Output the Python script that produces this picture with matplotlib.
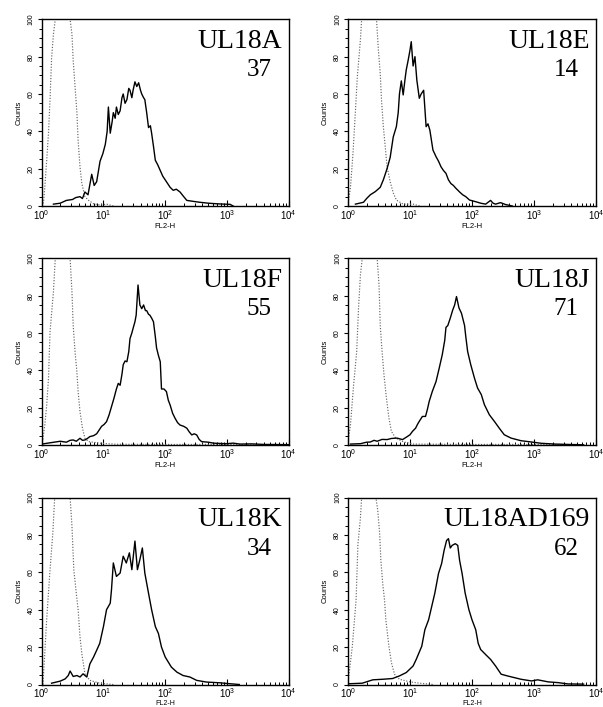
import matplotlib
matplotlib.use("Agg")
import matplotlib.pyplot as plt
import numpy as np
from matplotlib.ticker import LogLocator, MultipleLocator, NullFormatter

plt.rcParams['font.family'] = ['Liberation Sans', 'DejaVu Sans']
plt.rcParams['mathtext.fontset'] = 'custom'
plt.rcParams['mathtext.rm'] = 'Liberation Sans'
plt.rcParams['mathtext.it'] = 'Liberation Sans:italic'

# Panel names and percentage of positive cells
panel_names = ["UL18A", "UL18E", "UL18F", "UL18J", "UL18K", "UL18AD169"]
positive_pct = [37, 14, 55, 71, 34, 62]

# ---- Histogram data: log10(FL2-H) and counts ----
# UL18A
a_sample_log = [0.19, 0.3, 0.4, 0.5, 0.55, 0.62, 0.66, 0.7, 0.75, 0.81, 0.85, 0.89, 0.945, 0.99, 1.03,
                1.06, 1.08, 1.11, 1.14, 1.16, 1.19, 1.21, 1.24, 1.27, 1.3, 1.32, 1.35, 1.38, 1.41, 1.43,
                1.46, 1.48, 1.51, 1.54, 1.57, 1.6, 1.62, 1.65, 1.67, 1.7, 1.73, 1.76, 1.78, 1.81, 1.84,
                1.88, 1.92, 1.96, 2.0, 2.04, 2.08, 2.13, 2.18, 2.24, 2.3, 2.35, 2.45, 2.56, 2.7, 2.83,
                2.95, 3.05, 3.1]
a_sample_cnt = [1, 1.5, 3, 3.5, 4.5, 5, 4, 7.5, 6, 17, 11, 13, 24, 28, 33,
                40, 53, 39, 45, 50, 47, 53, 49, 51, 58, 60, 55, 57, 63, 62,
                58, 62, 66.5, 64, 66, 62, 60, 58, 57, 50, 42, 43, 39, 32, 24.5,
                22, 19, 16, 14, 12, 10, 8.4, 9, 7.5, 5, 3, 2.5, 2, 1.5, 1.2,
                1, 0.9, 0]
a_ctrl_log = [0.0, 0.03, 0.05, 0.08, 0.11, 0.135, 0.16, 0.19, 0.22, 0.46, 0.49, 0.51, 0.54, 0.57,
              0.59, 0.62, 0.65, 0.7, 0.76, 0.84, 0.95, 1.05, 1.16]
a_ctrl_cnt = [0, 2, 10, 24, 39, 57, 79, 92, 100, 100, 92, 78, 64, 50,
              35, 21, 12, 5, 3, 1.2, 0.5, 1, 0]

# UL18E
e_sample_log = [0.12, 0.25, 0.3, 0.36, 0.44, 0.52, 0.57, 0.63, 0.68, 0.73, 0.78, 0.81, 0.83, 0.86,
                0.89, 0.92, 0.94, 0.97, 1.0, 1.02, 1.05, 1.08, 1.11, 1.15, 1.18, 1.22, 1.26, 1.29,
                1.32, 1.37, 1.42, 1.46, 1.5, 1.54, 1.58, 1.62, 1.66, 1.7, 1.74, 1.8, 1.85, 1.9, 1.96,
                2.06, 2.14, 2.22, 2.3, 2.34, 2.38, 2.46, 2.54, 2.65]
e_sample_cnt = [1, 2, 4, 6, 7.7, 10, 14, 20, 26, 37, 42.5, 50, 60, 67,
                59.5, 68, 73, 78, 83.5, 88, 75, 80, 67.5, 57.7, 60, 62, 42.5, 44,
                40.7, 30, 26.4, 24, 21, 19, 17.5, 14, 12, 11, 9.5, 7.5, 6, 5, 3.2,
                2.3, 1.5, 1, 3, 1.5, 1, 1.8, 0.8, 0]
e_ctrl_log = [0.0, 0.01, 0.04, 0.08, 0.12, 0.15, 0.2, 0.22, 0.46, 0.49, 0.52, 0.54, 0.57, 0.6,
              0.63, 0.68, 0.73, 0.78, 0.89, 1.05, 1.16]
e_ctrl_cnt = [0, 3, 10, 28, 51, 69, 89, 100, 100, 83.5, 71, 57, 42.5, 32,
              21, 13, 7, 3.2, 1, 1, 0]

# UL18F
f_sample_log = [0.0, 0.1, 0.2, 0.3, 0.4, 0.46, 0.51, 0.56, 0.62, 0.66, 0.7, 0.74, 0.78, 0.84, 0.89,
                0.93, 0.97, 1.01, 1.05, 1.09, 1.13, 1.17, 1.21, 1.24, 1.27, 1.3, 1.32, 1.35, 1.38,
                1.41, 1.43, 1.46, 1.48, 1.51, 1.53, 1.56, 1.59, 1.62, 1.65, 1.68, 1.7, 1.73, 1.75,
                1.78, 1.81, 1.84, 1.86, 1.89, 1.92, 1.94, 1.98, 2.02, 2.05, 2.08, 2.12, 2.16, 2.2,
                2.24, 2.3, 2.35, 2.39, 2.43, 2.47, 2.51, 2.55, 2.59, 2.7, 2.78, 2.9, 3.0, 3.1, 3.21,
                3.4, 3.6, 4.0]
f_sample_cnt = [0.5, 1, 1.5, 2, 1.5, 2.5, 2.7, 2, 3.6, 2.5, 2.7, 3.5, 4.5, 5, 6,
                8, 10, 11, 12.5, 16, 20.5, 25, 30, 33, 32, 38, 43, 45, 44.6,
                50, 57, 60, 62.5, 66, 69.6, 85.7, 75, 73, 75, 72, 72, 70, 69.6,
                68, 66, 58, 52, 48, 44.6, 30, 30, 28.6, 24, 21.4, 17, 14.3, 12,
                10.7, 10, 9, 7, 5.4, 6, 5.4, 3, 1.8, 1.5, 1, 0.8, 0.7, 1, 0.5,
                0.6, 0.3, 0.2]
f_ctrl_log = [0.0, 0.02, 0.05, 0.08, 0.11, 0.135, 0.19, 0.22, 0.46, 0.49, 0.51, 0.54, 0.57, 0.59,
              0.62, 0.66, 0.7, 0.76, 0.94, 1.21, 2.0, 3.0, 3.5]
f_ctrl_cnt = [0, 3, 10.7, 21, 35.7, 60.7, 82, 100, 100, 82, 64, 50, 39, 28.6,
              17.9, 9, 3.6, 1.8, 1, 0.4, 0.3, 0.3, 0]

# UL18J
j_sample_log = [0.04, 0.2, 0.3, 0.36, 0.42, 0.47, 0.55, 0.63, 0.7, 0.79, 0.88, 0.96, 1.0, 1.04,
                1.09, 1.12, 1.15, 1.2, 1.25, 1.28, 1.31, 1.36, 1.42, 1.47, 1.52, 1.56, 1.58, 1.61,
                1.65, 1.69, 1.72, 1.75, 1.79, 1.83, 1.88, 1.9, 1.93, 1.98, 2.04, 2.09, 2.15, 2.2,
                2.28, 2.36, 2.44, 2.52, 2.63, 2.79, 2.96, 3.12, 3.34, 3.55, 3.8]
j_sample_cnt = [0.5, 0.7, 1.5, 1.6, 2.5, 2, 3, 2.9, 3.5, 3.7, 2.9, 4.6, 5.5, 7.3,
                9, 11, 12.7, 15.3, 15.3, 19, 23.4, 28.7, 34, 41, 48.3, 56, 63, 64,
                68, 72.4, 75, 79.5, 73.4, 70.6, 64, 58, 50, 43, 35.8, 30.5, 27, 21.6,
                16.2, 12.7, 9, 5.5, 3.7, 2.3, 1.6, 0.9, 0.5, 0.3, 0.1]
j_ctrl_log = [0.0, 0.01, 0.04, 0.09, 0.14, 0.17, 0.2, 0.23, 0.47, 0.5, 0.52, 0.55, 0.58, 0.62,
              0.66, 0.7, 0.77, 0.9, 1.06, 2.0, 3.0, 3.6]
j_ctrl_cnt = [0, 3.7, 11, 32, 50, 73.4, 91, 100, 100, 86, 64, 50, 37.6, 25,
              14.4, 7.3, 3.7, 1.6, 0.5, 0.3, 0.3, 0]

# UL18K
k_sample_log = [0.16, 0.3, 0.38, 0.43, 0.46, 0.51, 0.57, 0.62, 0.67, 0.73, 0.78, 0.84, 0.89, 0.94,
                1.0, 1.05, 1.11, 1.13, 1.16, 1.21, 1.27, 1.32, 1.37, 1.42, 1.46, 1.51, 1.55, 1.59,
                1.63, 1.67, 1.73, 1.78, 1.84, 1.89, 1.94, 2.0, 2.05, 2.1, 2.19, 2.29, 2.4, 2.51,
                2.67, 2.89, 3.05, 3.2]
k_sample_cnt = [0.7, 1.8, 3, 4.8, 7.2, 4.3, 4.8, 4, 5.7, 4, 11, 14.7, 18.3, 22,
                31, 40, 43.5, 50.6, 65, 57.8, 59.6, 68.6, 65, 70.4, 61.4, 76.7, 61.4, 66.8,
                73, 59.6, 48.8, 40, 31, 27.3, 20, 14.7, 12, 9.3, 6.6, 4.8, 4, 2.2,
                1.3, 0.9, 0.4, 0]
k_ctrl_log = [0.02, 0.04, 0.08, 0.135, 0.18, 0.21, 0.46, 0.49, 0.52, 0.56, 0.59, 0.62, 0.65, 0.7,
              0.78, 0.94, 1.16]
k_ctrl_cnt = [0, 11, 34.5, 61.4, 81, 100, 100, 84.7, 61.4, 48.8, 40, 25.5, 16.5, 5.7,
              2.2, 0.7, 0]

# UL18AD169
ad_sample_log = [0.02, 0.23, 0.4, 0.56, 0.72, 0.83, 0.94, 1.05, 1.1, 1.19, 1.24, 1.3, 1.35, 1.4,
                 1.46, 1.51, 1.55, 1.59, 1.62, 1.65, 1.68, 1.73, 1.77, 1.8, 1.84, 1.89, 1.95, 2.0,
                 2.06, 2.1, 2.14, 2.22, 2.3, 2.38, 2.47, 2.57, 2.68, 2.79, 2.96, 3.06, 3.23, 3.39,
                 3.55, 3.8]
ad_sample_cnt = [0.4, 0.7, 2.5, 2.8, 3.2, 4.6, 6.4, 9.9, 13.4, 20.5, 29.3, 34.6, 41.7, 48.8,
                 59.4, 64.7, 71.7, 77, 78, 73, 74.4, 75.3, 74.4, 66.4, 59.4, 48.8, 40, 34.6,
                 29.3, 22, 18.7, 16, 13.4, 9.9, 5.5, 4.6, 3.7, 2.8, 1.9, 2.5, 1.4, 1,
                 0.3, 0.2]
ad_ctrl_log = [0.0, 0.02, 0.07, 0.13, 0.16, 0.2, 0.22, 0.45, 0.48, 0.51, 0.53, 0.56, 0.59, 0.61,
               0.66, 0.7, 0.75, 0.83, 1.0, 1.16, 1.38]
ad_ctrl_cnt = [0, 6.4, 20.5, 45, 75, 89, 100, 100, 93, 81, 66.4, 54, 45, 34.6,
               20.5, 11.7, 5.5, 2.8, 1.4, 0.7, 0]

samples = [(a_sample_log, a_sample_cnt), (e_sample_log, e_sample_cnt), (f_sample_log, f_sample_cnt),
           (j_sample_log, j_sample_cnt), (k_sample_log, k_sample_cnt), (ad_sample_log, ad_sample_cnt)]
controls = [(a_ctrl_log, a_ctrl_cnt), (e_ctrl_log, e_ctrl_cnt), (f_ctrl_log, f_ctrl_cnt),
            (j_ctrl_log, j_ctrl_cnt), (k_ctrl_log, k_ctrl_cnt), (ad_ctrl_log, ad_ctrl_cnt)]

x_ticks = [1, 10, 100, 1000, 10000]
y_ticks = [0, 20, 40, 60, 80, 100]

W, H = 603, 707
fig = plt.figure(figsize=(W / 100, H / 100), dpi=100)

# axes boxes in pixels: (left, top, right, bottom)
col_lr = [(41.7, 288.7), (348.0, 596.0)]
row_tb = [(19.3, 206.0), (258.3, 445.0), (497.5, 684.5)]

for i in range(6):
    r, c = divmod(i, 2)
    l, rr = col_lr[c]
    t, b = row_tb[r]
    ax = fig.add_axes([l / W, 1 - b / H, (rr - l) / W, (b - t) / H])

    clog, ccnt = controls[i]
    slog, scnt = samples[i]
    ax.plot(10 ** np.asarray(clog), ccnt, color='0.4', lw=0.85,
            linestyle=(0, (1, 1.4)), zorder=2)
    ax.plot(10 ** np.asarray(slog), scnt, color='black', lw=1.0, zorder=3)

    ax.set_xscale('log')
    ax.set_xlim(1, 1e4)
    ax.set_ylim(0, 100)
    ax.set_xticks(x_ticks)
    ax.xaxis.set_minor_locator(LogLocator(base=10, subs=np.arange(2, 10)))
    ax.xaxis.set_minor_formatter(NullFormatter())
    ax.set_yticks(y_ticks)
    ax.yaxis.set_minor_locator(MultipleLocator(5))

    ax.tick_params(axis='x', which='major', direction='in', length=4, width=0.8,
                   labelsize=7, pad=1.5)
    ax.tick_params(axis='x', which='minor', direction='in', length=2.5, width=0.7)
    ax.tick_params(axis='y', which='major', direction='out', length=3, width=0.8,
                   labelsize=5, pad=2)
    ax.tick_params(axis='y', which='minor', direction='out', length=2, width=0.7)
    for lab in ax.get_yticklabels():
        lab.set_rotation(90)
        lab.set_verticalalignment('center')

    for sp in ax.spines.values():
        sp.set_linewidth(1.0)

    # bottom row sits close to the figure edge, so its axis title is tucked in
    if r == 2:
        ax.set_xlabel("FL2-H", fontsize=5, labelpad=-0.5)
    else:
        ax.set_xlabel("FL2-H", fontsize=5.5, labelpad=1)
    ax.set_ylabel("Counts", fontsize=5.5, labelpad=4)

    ax.text(0.975, 0.845, panel_names[i], transform=ax.transAxes, ha='right',
            va='baseline', fontsize=20, family='Liberation Serif')
    ax.text(0.93, 0.695, str(positive_pct[i]), transform=ax.transAxes, ha='right',
            va='baseline', fontsize=18, family='Liberation Serif')

fig.savefig("out.png", dpi=100)
